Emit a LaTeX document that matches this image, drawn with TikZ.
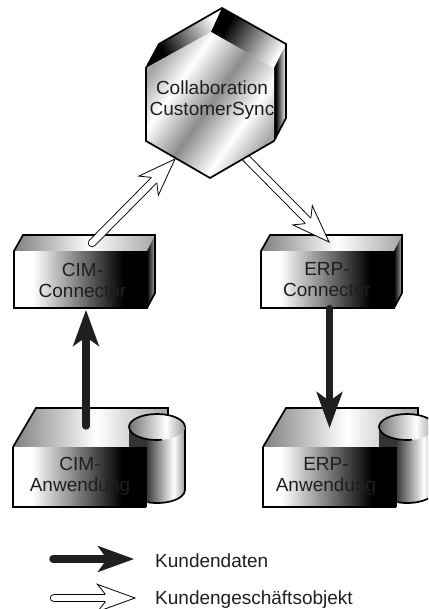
\documentclass[tikz,border=0pt]{standalone}
\usepackage{fontspec}
\setmainfont{Liberation Sans}
\usetikzlibrary{calc}
\pgfdeclarehorizontalshading{frontshade}{100bp}{color(0bp)=(white);color(32bp)=(white);color(66bp)=(black);color(100bp)=(black)}
\pgfdeclarehorizontalshading{topshade}{100bp}{color(0bp)=(black!50);color(25bp)=(black!50);color(52bp)=(white);color(75bp)=(black!35);color(100bp)=(black!35)}
\pgfdeclarehorizontalshading{hexshade}{100bp}{color(0bp)=(black!35);color(25bp)=(black!35);color(36bp)=(white);color(50bp)=(black!45);color(64bp)=(white);color(75bp)=(black!35);color(100bp)=(black!35)}
\pgfdeclarehorizontalshading{facetshade}{100bp}{color(0bp)=(black);color(32bp)=(black);color(75bp)=(white);color(100bp)=(white)}
\pgfdeclarehorizontalshading{sideshade}{100bp}{color(0bp)=(black);color(25bp)=(black);color(75bp)=(black!35);color(100bp)=(black!35)}
\pgfdeclarehorizontalshading{cylshade}{100bp}{color(0bp)=(black!80);color(40bp)=(black!80);color(65bp)=(white);color(75bp)=(black!40);color(100bp)=(black!40)}
\pgfdeclarehorizontalshading{lidshade}{100bp}{color(0bp)=(black!55);color(25bp)=(black!55);color(58bp)=(white);color(75bp)=(black!40);color(100bp)=(black!40)}
\colorlet{inkdark}{black!88}
\tikzset{
  outline/.style={draw=black,line width=1.7pt,line join=miter},
  label/.style={text=inkdark,font=\fontsize{19}{21}\selectfont,align=center,inner sep=0pt},
  legendlabel/.style={text=inkdark,font=\fontsize{19}{21}\selectfont,anchor=base west,inner sep=0pt},
}
\newcommand{\solidarrow}[2]{%
  \draw[inkdark,line width=7.4pt,line cap=round] (#1) -- ($(#2)!25pt!(#1)$);
  \fill[inkdark] (#2) -- ($(#2)!39pt!20:(#1)$) -- ($(#2)!27pt!(#1)$) -- ($(#2)!39pt!-20:(#1)$) -- cycle;
}
\newcommand{\hollowarrow}[2]{%
  \draw[black,line width=8.4pt,line cap=round] (#1) -- ($(#2)!29pt!(#1)$);
  \draw[white,line width=6.6pt,line cap=round] (#1) -- ($(#2)!29pt!(#1)$);
  \fill[white] (#2) -- ($(#2)!40pt!20:(#1)$) -- ($(#2)!30pt!7.5:(#1)$) -- ($(#2)!30pt!-7.5:(#1)$) -- ($(#2)!40pt!-20:(#1)$) -- cycle;
  \draw[black,line width=0.8pt,line join=miter] ($(#2)!30pt!7.5:(#1)$) -- ($(#2)!40pt!20:(#1)$) -- (#2) -- ($(#2)!40pt!-20:(#1)$) -- ($(#2)!30pt!-7.5:(#1)$);
}
% connector block, local origin at front top-left
\newcommand{\connectorblock}[2]{%
  \begin{scope}[shift={(#1,#2)}]
    \path[shading=topshade] (0,0) -- (9,-16) -- (141,-16) -- (133,0) -- cycle;
    \path[shading=sideshade] (133,0) -- (141,-16) -- (141,42) -- (133,57) -- cycle;
    \path[shading=frontshade] (0,0) -- (133,0) -- (133,57) -- (0,57) -- cycle;
    \draw[outline] (0,0) -- (9,-16) -- (141,-16) -- (141,42) -- (133,57) -- (0,57) -- cycle;
  \end{scope}
}
% application block with cylinder, local origin at front top-left
\newcommand{\appblock}[2]{%
  \begin{scope}[shift={(#1,#2)}]
    \path[shading=topshade] (0,0) -- (23,-39) -- (155,-39) -- (155,-10) -- (133,0) -- cycle;
    \draw[outline] (0,0) -- (23,-39) -- (155,-39) -- (155,-32);
    \path[shading=cylshade] (116,-20) -- (116,43) arc[start angle=180,end angle=0,x radius=28,y radius=13] -- (172,-20) -- cycle;
    \draw[outline] (172,-20) -- (172,43) arc[start angle=0,end angle=110,x radius=28,y radius=13];
    \path[shading=lidshade] (144,-20) ellipse[x radius=28,y radius=13];
    \draw[outline] (172,-20) arc[start angle=0,end angle=-280,x radius=28,y radius=13];
    \path[shading=frontshade] (0,0) -- (133,0) -- (133,60) -- (0,60) -- cycle;
    \draw[outline] (133,60) -- (0,60) -- (0,0);
    \draw[line width=0.8pt,black] (133,60) -- (133,0);
  \end{scope}
}
\begin{document}
\begin{tikzpicture}[x=1pt,y=-1pt]
\clip (0,0) rectangle (428,609);
\useasboundingbox (0,0) rectangle (428,609);
% anchor coordinates
\coordinate (cimcOut) at (92,243);
\coordinate (hexIn) at (175,159);
\coordinate (hexOut) at (240,152);
\coordinate (erpcIn) at (329,242);
\coordinate (cimaOut) at (86,426);
\coordinate (cimcIn) at (86,310);
\coordinate (erpcOut) at (329.5,308.5);
\coordinate (erpaIn) at (329.5,428);
\coordinate (legAs) at (53,559);
\coordinate (legAt) at (134,559);
\coordinate (legBs) at (54,598);
\coordinate (legBt) at (135,598);
% blocks
\connectorblock{14}{251}
\connectorblock{261}{251}
\appblock{13}{447}
\appblock{263}{447}
% hollow connector behind hexagon
\hollowarrow{hexOut}{erpcIn}
% hexagon
\path[shading=facetshade,shading angle=30] (159,44) -- (222,8) -- (211,32) -- (146,68) -- cycle;
\path[shading=facetshade,shading angle=-30] (222,8) -- (286,44) -- (274,68) -- (211,32) -- cycle;
\path[shading=facetshade] (274,68) -- (286,44) -- (286,118) -- (274,141) -- cycle;
\path[shading=hexshade,shading angle=-35] (146,68) -- (211,32) -- (274,68) -- (274,141) -- (210,178) -- (146,141) -- cycle;
\draw[outline] (146,68) -- (159,44) -- (222,8) -- (286,44) -- (286,118) -- (274,141) -- (210,178) -- (146,141) -- cycle;
% connectors
\hollowarrow{cimcOut}{hexIn}
\solidarrow{cimaOut}{cimcIn}
\solidarrow{erpcOut}{erpaIn}
\solidarrow{legAs}{legAt}
\hollowarrow{legBs}{legBt}
% labels
\node[label] (hexlabel) at (212,100.5) {Collaboration\\CustomerSync};
\node[label] (cimcLabel) at (82.5,280) {CIM-\\Connector};
\node[label] (erpcLabel) at (327,280) {ERP-\\Connector};
\node[label] (cimaLabel) at (80,476) {CIM-\\Anwendung};
\node[label] (erpaLabel) at (326,476) {ERP-\\Anwendung};
\node[legendlabel] (legA) at (155,567) {Kundendaten};
\node[legendlabel] (legB) at (155,604) {Kundengeschäftsobjekt};
\end{tikzpicture}
\end{document}
